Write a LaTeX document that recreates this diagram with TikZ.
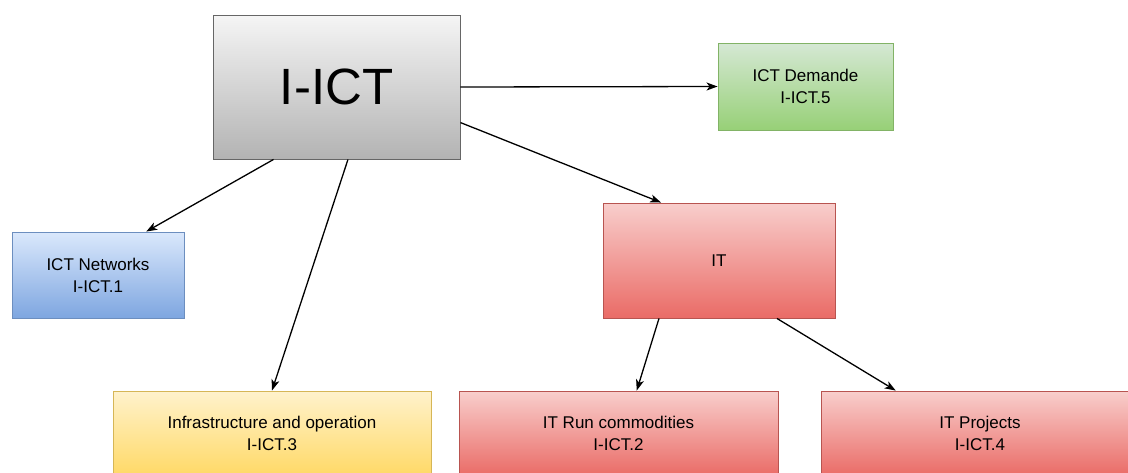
\documentclass[tikz,border=0pt]{standalone}
\usepackage{fontspec}
\setmainfont{Liberation Sans}
\usetikzlibrary{arrows.meta}
\definecolor{grayT}{HTML}{F5F5F5}\definecolor{grayB}{HTML}{B3B3B3}\definecolor{grayD}{HTML}{666666}
\definecolor{grnT}{HTML}{D5E8D4}\definecolor{grnB}{HTML}{97D077}\definecolor{grnD}{HTML}{82B366}
\definecolor{bluT}{HTML}{DAE8FC}\definecolor{bluB}{HTML}{7EA6E0}\definecolor{bluD}{HTML}{6C8EBF}
\definecolor{redT}{HTML}{F8CECC}\definecolor{redB}{HTML}{EA6B66}\definecolor{redD}{HTML}{B85450}
\definecolor{yelT}{HTML}{FFF2CC}\definecolor{yelB}{HTML}{FFD966}\definecolor{yelD}{HTML}{D6B656}
\tikzset{
  box/.style={rectangle, inner sep=0pt, align=center, line width=0.9pt,
    font=\fontsize{17}{22}\selectfont},
  graybox/.style={box, draw=grayD, top color=grayT, bottom color=grayB},
  grnbox/.style={box, draw=grnD, top color=grnT, bottom color=grnB},
  blubox/.style={box, draw=bluD, top color=bluT, bottom color=bluB},
  redbox/.style={box, draw=redD, top color=redT, bottom color=redB},
  yelbox/.style={box, draw=yelD, top color=yelT, bottom color=yelB},
  conn/.style={line width=1.3pt, -{Stealth[length=11pt,width=8pt,inset=3pt]}}
}
\begin{document}
\begin{tikzpicture}[x=1pt,y=-1pt]
\useasboundingbox (0,0) rectangle (1128,472);
\clip (0,0) rectangle (1128,472);
\fill[white] (0,0) rectangle (1128,472);
\node[graybox, minimum width=247pt, minimum height=144pt, font=\fontsize{51}{60}\selectfont] (ict) at (336.5,87) {I-ICT};
\node[grnbox, minimum width=175pt, minimum height=87pt] (dem) at (805.5,86.5) {ICT Demande\\I-ICT.5};
\node[blubox, minimum width=172pt, minimum height=86pt] (net) at (98,275) {ICT Networks\\I-ICT.1};
\node[redbox, minimum width=232pt, minimum height=115pt] (it) at (719,260.5) {IT};
\node[yelbox, minimum width=318pt, minimum height=85pt] (inf) at (272,433.5) {Infrastructure and operation\\I-ICT.3};
\node[redbox, minimum width=319pt, minimum height=85pt] (run) at (618.5,433.5) {IT Run commodities\\I-ICT.2};
\node[redbox, minimum width=318pt, minimum height=85pt] (prj) at (980,433.5) {IT Projects\\I-ICT.4};
\draw[conn] (ict.east) -- (dem.west);
\draw[conn] (ict.-16.3) -- (it.135.7);
\draw[conn] (ict.229.5) -- (net.42.5);
\draw[conn] (ict.-81.7) -- (inf.north);
\draw[conn] (it.224.3) -- (run.67.6);
\draw[conn] (it.-45.8) -- (prj.153.4);
\end{tikzpicture}
\end{document}
